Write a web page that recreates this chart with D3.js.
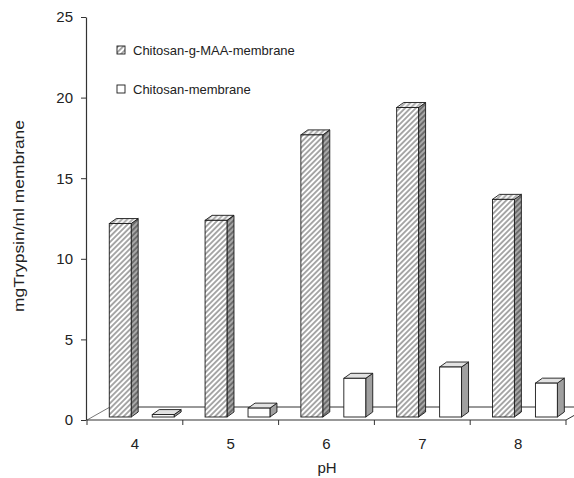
<!DOCTYPE html>
<html>
<head>
<meta charset="utf-8">
<script src="https://cdn.jsdelivr.net/npm/d3@7"></script>
<style>
  html, body { margin: 0; padding: 0; background: #fff; }
  svg { display: block; }
  text { font-family: "Liberation Sans", Arial, sans-serif; fill: #222; }
</style>
</head>
<body>
<svg id="chart" width="574" height="478"></svg>
<script>
// ---- data ----
const categories = ["4", "5", "6", "7", "8"];
const seriesNames = ["Chitosan-g-MAA-membrane", "Chitosan-membrane"];
const chitosanGMAA = [12.0, 12.2, 17.5, 19.2, 13.5];
const chitosan = [0.15, 0.55, 2.4, 3.1, 2.1];
const yTicks = [0, 5, 10, 15, 20, 25];
const xTitle = "pH";
const yTitle = "mgTrypsin/ml membrane";

// ---- layout ----
const svg = d3.select("#chart");
const plotLeft = 87, plotRight = 566, plotTop = 17, plotBase = 420;
const floorDx = 23, floorDy = -13;     // floor depth
const barShiftX = 0, barShiftY = -3;   // bars set back on the floor
const depthX = 7, depthY = -5;         // bar depth

const x = d3.scaleBand().domain(categories).range([plotLeft, plotRight]).padding(0);
const inner = d3.scaleBand().domain(d3.range(seriesNames.length))
  .range([0, x.bandwidth()]).paddingInner(0.49).paddingOuter(0.36).align(0.72);
const y = d3.scaleLinear().domain([0, 25]).range([plotBase, plotTop]);

// ---- patterns ----
const defs = svg.append("defs");
function hatch(id, bg, stroke, sw, period) {
  const p = defs.append("pattern").attr("id", id)
    .attr("patternUnits", "userSpaceOnUse").attr("width", period).attr("height", period)
    .attr("patternTransform", "rotate(45)");
  p.append("rect").attr("width", period).attr("height", period).attr("fill", bg);
  p.append("line").attr("x1", period / 2).attr("y1", 0).attr("x2", period / 2).attr("y2", period)
    .attr("stroke", stroke).attr("stroke-width", sw);
}
hatch("hFront", "#ffffff", "#7c7c7c", 1.3, 3.8);
hatch("hTop", "#f4f4f4", "#8a8a8a", 1.2, 3.8);
hatch("hSide", "#a8a8a8", "#505050", 1.3, 3.8);

// ---- floor ----
const floorBack = plotBase + floorDy;
svg.append("line").attr("x1", plotLeft + floorDx).attr("y1", floorBack)
  .attr("x2", plotRight + floorDx).attr("y2", floorBack)
  .attr("stroke", "#333").attr("stroke-width", 1);
svg.append("line").attr("x1", plotLeft).attr("y1", plotBase)
  .attr("x2", plotLeft + floorDx).attr("y2", floorBack)
  .attr("stroke", "#555").attr("stroke-width", 0.8);
svg.append("line").attr("x1", plotRight).attr("y1", plotBase)
  .attr("x2", plotRight + floorDx).attr("y2", floorBack)
  .attr("stroke", "#333").attr("stroke-width", 1);

// ---- bars ----
const styles = [
  { front: "url(#hFront)", topFace: "url(#hTop)", side: "url(#hSide)" },
  { front: "#ffffff", topFace: "#e2e2e2", side: "#a0a0a0" }
];
const barData = [];
categories.forEach((c, ci) => {
  [chitosanGMAA, chitosan].forEach((arr, si) => {
    barData.push({ c, si, v: arr[ci] });
  });
});
const bars = svg.append("g").selectAll("g").data(barData).join("g");
bars.each(function(d) {
  const g = d3.select(this);
  const x0 = x(d.c) + inner(d.si) + barShiftX;
  const w = inner.bandwidth();
  const yb = y(0) + barShiftY;
  const yt = y(d.v) + barShiftY;
  const st = styles[d.si];
  const pts = a => a.map(p => p.join(",")).join(" ");
  g.append("polygon")
    .attr("points", pts([[x0 + w, yt], [x0 + w + depthX, yt + depthY], [x0 + w + depthX, yb + depthY], [x0 + w, yb]]))
    .attr("fill", st.side).attr("stroke", "#1a1a1a").attr("stroke-width", 0.9);
  g.append("polygon")
    .attr("points", pts([[x0, yt], [x0 + w, yt], [x0 + w + depthX, yt + depthY], [x0 + depthX, yt + depthY]]))
    .attr("fill", st.topFace).attr("stroke", "#1a1a1a").attr("stroke-width", 0.9);
  g.append("rect").attr("x", x0).attr("y", yt).attr("width", w).attr("height", Math.max(0, yb - yt))
    .attr("fill", st.front).attr("stroke", "#1a1a1a").attr("stroke-width", 0.9);
});

// ---- x axis ----
svg.append("line").attr("x1", plotLeft).attr("y1", plotBase).attr("x2", plotRight).attr("y2", plotBase)
  .attr("stroke", "#333").attr("stroke-width", 1.2);
const bounds = categories.map(c => x(c)).concat([plotRight]);
svg.append("g").selectAll("line").data(bounds).join("line")
  .attr("x1", d => d).attr("x2", d => d).attr("y1", plotBase).attr("y2", plotBase + 5)
  .attr("stroke", "#333").attr("stroke-width", 1);
svg.append("g").selectAll("text").data(categories).join("text")
  .attr("x", d => x(d) + x.bandwidth() / 2).attr("y", plotBase + 23)
  .attr("text-anchor", "middle").attr("dominant-baseline", "central")
  .style("font-size", "15px").text(d => d);
svg.append("text").attr("x", 327).attr("y", 467).attr("text-anchor", "middle")
  .attr("dominant-baseline", "central").style("font-size", "15px").text(xTitle);

// ---- y axis ----
const yAxis = svg.append("g").attr("transform", `translate(${plotLeft - 1},0)`)
  .call(d3.axisLeft(y).tickValues(yTicks).tickSize(5).tickSizeOuter(0).tickPadding(8));
yAxis.select(".domain").attr("stroke", "#333").attr("stroke-width", 1.2);
yAxis.selectAll(".tick line").attr("stroke", "#333");
yAxis.selectAll(".tick text").style("font-size", "15px")
  .style("font-family", "'Liberation Sans', Arial, sans-serif").attr("fill", "#222");
svg.append("text").attr("transform", "translate(19,216) rotate(-90)")
  .attr("text-anchor", "middle").attr("dominant-baseline", "central")
  .attr("textLength", 192).attr("lengthAdjust", "spacingAndGlyphs")
  .style("font-size", "14px").text(yTitle);

// ---- legend ----
const legY = [50, 89];
const leg = svg.append("g").selectAll("g").data(seriesNames).join("g")
  .attr("transform", (d, i) => `translate(117,${legY[i]})`);
leg.append("rect").attr("x", 0).attr("y", -4).attr("width", 8).attr("height", 8)
  .attr("fill", (d, i) => i === 0 ? "url(#hFront)" : "#fff")
  .attr("stroke", "#1a1a1a").attr("stroke-width", 0.9);
leg.append("text").attr("x", 16).attr("y", 0).attr("dominant-baseline", "central")
  .style("font-size", "13px").text(d => d);
</script>
</body>
</html>
